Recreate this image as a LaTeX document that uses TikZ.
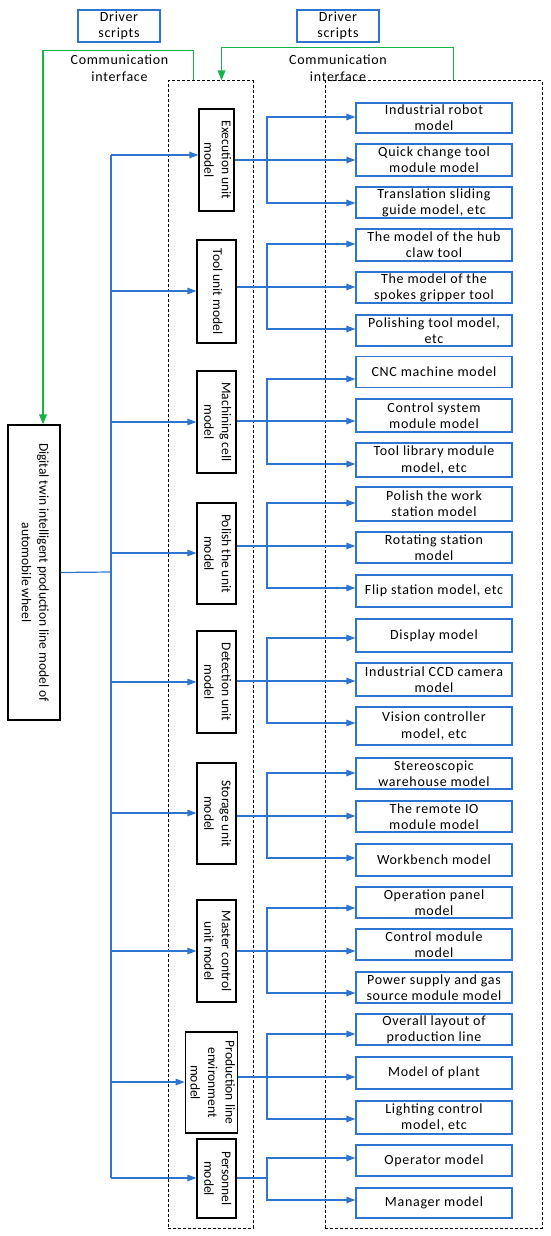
\documentclass[tikz,border=0pt]{standalone}
\usepackage{fontspec}
\setmainfont{Carlito}
\newfontfamily\spacedfont[LetterSpace=5]{Carlito}
\usepackage{graphicx}
\usetikzlibrary{arrows.meta}
\definecolor{bblue}{RGB}{46,117,210}
\definecolor{ggreen}{RGB}{20,180,70}
\newcommand{\tfs}{\spacedfont\fontsize{14}{16.3}\selectfont}
\newcommand{\ufs}{\fontsize{13.5}{17.5}\selectfont}
\newcommand{\rot}[1]{\rotatebox{-90}{\begin{tabular}{@{}c@{}}#1\end{tabular}}}
\tikzset{
  tgt/.style={draw=bblue, line width=1.2pt, minimum width=156pt, align=center, inner sep=0pt, font=\tfs},
  unitbox/.style={draw=black, line width=1.2pt, inner sep=0pt, font=\ufs},
  drvbox/.style={draw=bblue, line width=1.2pt, minimum width=82pt, minimum height=32pt, inner sep=0pt, align=center, font=\spacedfont\fontsize{14}{16.5}\selectfont},
  commlbl/.style={align=center, inner sep=0pt, font=\spacedfont\fontsize{14}{17}\selectfont},
  dbox/.style={draw=black, line width=1pt, dash pattern=on 3pt off 2pt, inner sep=0pt},
  bl/.style={draw=bblue, line width=1.2pt},
  barrow/.style={bl, -{Triangle[length=9pt,width=6.5pt]}},
  barrows/.style={bl, {Triangle[length=9pt,width=6.5pt]}-{Triangle[length=9pt,width=6.5pt]}},
  garrow/.style={draw=ggreen, line width=1.8pt, -{Triangle[length=10pt,width=7.5pt]}},
}
\newcommand{\T}[4]{\node[tgt, minimum height=#3pt] (#1) at (434,#2) {#4};}
\begin{document}
\begin{tikzpicture}[x=1pt,y=-1pt]
\useasboundingbox (0,0) rectangle (550,1236);

% dashed containers
\node[dbox, minimum width=85pt, minimum height=1147pt] (db1) at (210.5,654.5) {};
\node[dbox, minimum width=217pt, minimum height=1147pt] (db2) at (433.5,654.5) {};

% driver scripts and labels
\node[drvbox] (d1) at (119,26) {Driver\\scripts};
\node[drvbox] (d2) at (338,26) {Driver\\scripts};
\node[commlbl] (c1) at (119.5,68.5) {Communication\\interface};
\node[commlbl] (c2) at (338,68.5) {Communication\\interface};

% main box
\node[unitbox, minimum width=52pt, minimum height=295pt] (main) at (34,572.5)
  {\rot{Digital twin intelligent production line model of\\automobile wheel}};

% unit boxes
\node[unitbox, minimum width=35pt, minimum height=102pt] (u1) at (216.5,160) {\rot{Execution unit\\model}};
\node[unitbox, minimum width=39pt, minimum height=103pt] (u2) at (216.5,291.5) {\rot{Tool unit model}};
\node[unitbox, minimum width=39pt, minimum height=102pt] (u3) at (216.5,422) {\rot{Machining cell\\model}};
\node[unitbox, minimum width=39pt, minimum height=101pt] (u4) at (216.5,553.5) {\rot{Polish the unit\\model}};
\node[unitbox, minimum width=39pt, minimum height=102pt] (u5) at (216.5,682) {\rot{Detection unit\\model}};
\node[unitbox, minimum width=39pt, minimum height=101pt] (u6) at (216.5,813.5) {\rot{Storage unit\\model}};
\node[unitbox, minimum width=39pt, minimum height=102pt] (u7) at (216.5,951) {\rot{Master control\\unit model}};
\node[unitbox, minimum width=49pt, minimum height=101pt] (u8) at (211.5,1082.5) {\rot{Production line\\environment\\model}};
\node[unitbox, minimum width=39pt, minimum height=79pt] (u9) at (216.5,1178.5) {\rot{Personnel\\model}};

% target boxes
\T{t1}{118}{30}{Industrial robot\\model}
\T{t2}{160}{32}{Quick change tool\\module model}
\T{t3}{202.5}{31}{Translation sliding\\guide model, etc}
\T{t4}{245}{32}{The model of the hub\\claw tool}
\T{t5}{287.5}{31}{The model of the\\spokes gripper tool}
\T{t6}{330.5}{31}{Polishing tool model,\\etc}
\T{t7}{372}{31}{CNC machine model}
\T{t8}{415.5}{33}{Control system\\module model}
\T{t9}{460}{34}{Tool library module\\model, etc}
\T{t10}{504}{34}{Polish the work\\station model}
\T{t11}{547.5}{31}{Rotating station\\model}
\T{t12}{591}{32}{Flip station model, etc}
\T{t13}{635.5}{33}{Display model}
\T{t14}{679.5}{33}{Industrial CCD camera\\model}
\T{t15}{726}{38}{Vision controller\\model, etc}
\T{t16}{773.5}{31}{Stereoscopic\\warehouse model}
\T{t17}{816.5}{31}{The remote IO\\module model}
\T{t18}{860}{32}{Workbench model}
\T{t19}{902.5}{31}{Operation panel\\model}
\T{t20}{944.5}{31}{Control module\\model}
\T{t21}{987.5}{31}{Power supply and gas\\source module model}
\T{t22}{1029.5}{31}{Overall layout of\\production line}
\T{t23}{1073}{32}{Model of plant}
\T{t24}{1117.5}{33}{Lighting control\\model, etc}
\T{t25}{1160.5}{31}{Operator model}
\T{t26}{1203}{30}{Manager model}

% green connectors
\draw[garrow] ([xshift=26pt]db1.north west) -- ++(0,-30) -| ([xshift=9pt]main.north);
\draw[garrow] ([xshift=129pt]db2.north west) -- ++(0,-33) -| ([xshift=54pt]db1.north west);

% trunk
\coordinate (tt) at (111,155);
\coordinate (tb) at (111,1178);
\draw[bl] (main.east) -- (111,572);
\draw[bl] (tt) -- (tb);
\draw[barrow] (tt) -- (u1.west |- tt);
\draw[barrow] (111,291) -- (u2.west |- 0,291);
\draw[barrow] (111,422) -- (u3.west |- 0,422);
\draw[barrow] (111,553) -- (u4.west |- 0,553);
\draw[barrow] (111,682) -- (u5.west |- 0,682);
\draw[barrow] (111,813) -- (u6.west |- 0,813);
\draw[barrow] (111,951) -- (u7.west |- 0,951);
\draw[barrow] (111,1082) -- (u8.west |- 0,1082);
\draw[barrow] (tb) -- (u9.west |- tb);

% group connectors
\draw[barrow] (u1.east |- 0,160) -- (t2.west |- 0,160);
\draw[barrows] (t1.west |- 0,117) -- (267,117) -- (267,203) -- (t3.west |- 0,203);
\draw[barrow] (u2.east |- 0,287) -- (t5.west |- 0,287);
\draw[barrows] (t4.west |- 0,244) -- (267,244) -- (267,329) -- (t6.west |- 0,329);
\draw[barrow] (u3.east |- 0,421) -- (t8.west |- 0,421);
\draw[barrows] (t7.west |- 0,379) -- (267,379) -- (267,464) -- (t9.west |- 0,464);
\draw[barrow] (u4.east |- 0,546) -- (t11.west |- 0,546);
\draw[barrows] (t10.west |- 0,503) -- (267,503) -- (267,588) -- (t12.west |- 0,588);
\draw[barrow] (u5.east |- 0,681) -- (t14.west |- 0,681);
\draw[barrows] (t13.west |- 0,638) -- (267,638) -- (267,723) -- (t15.west |- 0,723);
\draw[barrow] (u6.east |- 0,816) -- (t17.west |- 0,816);
\draw[barrows] (t16.west |- 0,773) -- (267,773) -- (267,858) -- (t18.west |- 0,858);
\draw[barrow] (u7.east |- 0,951) -- (t20.west |- 0,951);
\draw[barrows] (t19.west |- 0,908) -- (267,908) -- (267,993) -- (t21.west |- 0,993);
\draw[barrow] (u8.east |- 0,1077) -- (t23.west |- 0,1077);
\draw[barrows] (t22.west |- 0,1034) -- (267,1034) -- (267,1119) -- (t24.west |- 0,1119);
\draw[bl] (u9.east |- 0,1178) -- (267,1178);
\draw[barrows] (t25.west |- 0,1158) -- (267,1158) -- (267,1200) -- (t26.west |- 0,1200);
\end{tikzpicture}
\end{document}
